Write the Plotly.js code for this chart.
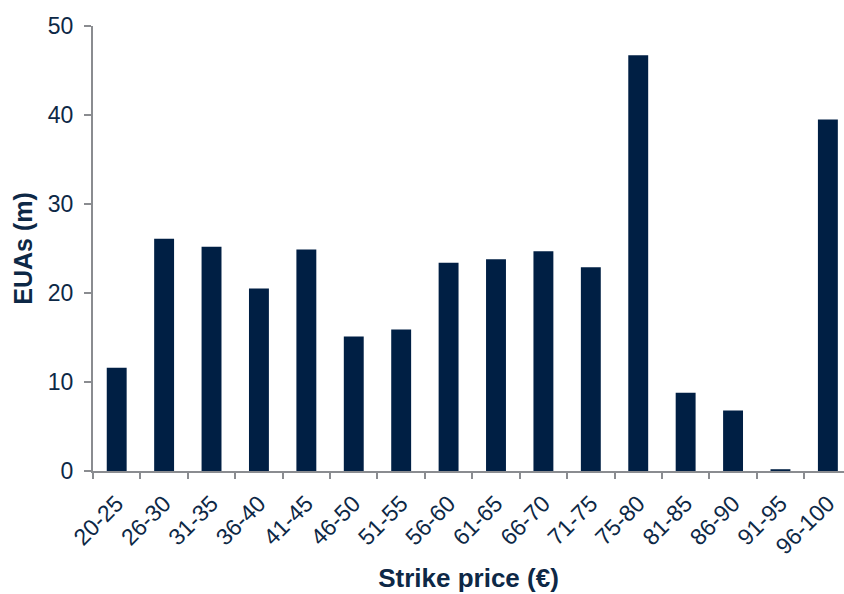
<!DOCTYPE html>
<html>
<head>
<meta charset="utf-8">
<script src="https://cdn.plot.ly/plotly-3.0.1.min.js"></script>
<style>html,body{margin:0;padding:0;overflow:hidden;background:#fff}#chart{width:844px;height:594px}</style>
</head>
<body>
<div id="chart"></div>
<script>
const categories = ["20-25","26-30","31-35","36-40","41-45","46-50","51-55","56-60","61-65","66-70","71-75","75-80","81-85","86-90","91-95","96-100"];
const euas = [11.6, 26.1, 25.2, 20.5, 24.9, 15.1, 15.9, 23.4, 23.8, 24.7, 22.9, 46.7, 8.8, 6.8, 0.2, 39.5];
const yTicks = [0, 10, 20, 30, 40, 50];

const navy = '#001f44';
const txt = '#0d2846';
const grey = '#8a8c90';

Plotly.newPlot('chart', [{
  type: 'bar',
  x: categories,
  y: euas,
  marker: {color: navy, line: {width: 0}},
  hoverinfo: 'x+y'
}], {
  width: 844, height: 594,
  margin: {l: 93, r: 0, t: 26, b: 123},
  paper_bgcolor: '#fff', plot_bgcolor: '#fff',
  bargap: 0.58,
  showlegend: false,
  font: {family: 'Liberation Sans, Arial, sans-serif', color: txt},
  xaxis: {
    type: 'category',
    range: [-0.5, 15.34],
    showgrid: false, zeroline: false,
    showline: true, linecolor: grey, linewidth: 2,
    ticks: 'outside', tickson: 'boundaries', ticklen: 6, tickcolor: grey, tickwidth: 2,
    tickangle: -45,
    ticklabelstandoff: 8,
    tickfont: {size: 23, color: txt},
    title: {text: '<b>Strike price (€)</b>', font: {size: 26, color: txt}, standoff: 10}
  },
  yaxis: {
    range: [0, 50],
    tickvals: yTicks,
    showgrid: false, zeroline: false,
    showline: true, linecolor: grey, linewidth: 2,
    ticks: 'outside', ticklen: 7, tickcolor: grey, tickwidth: 2,
    ticklabelstandoff: 6,
    tickfont: {size: 23, color: txt},
    title: {text: '<b>EUAs (m)</b>', font: {size: 25, color: txt}, standoff: 8}
  }
}, {displayModeBar: false, staticPlot: true});
</script>
</body>
</html>
